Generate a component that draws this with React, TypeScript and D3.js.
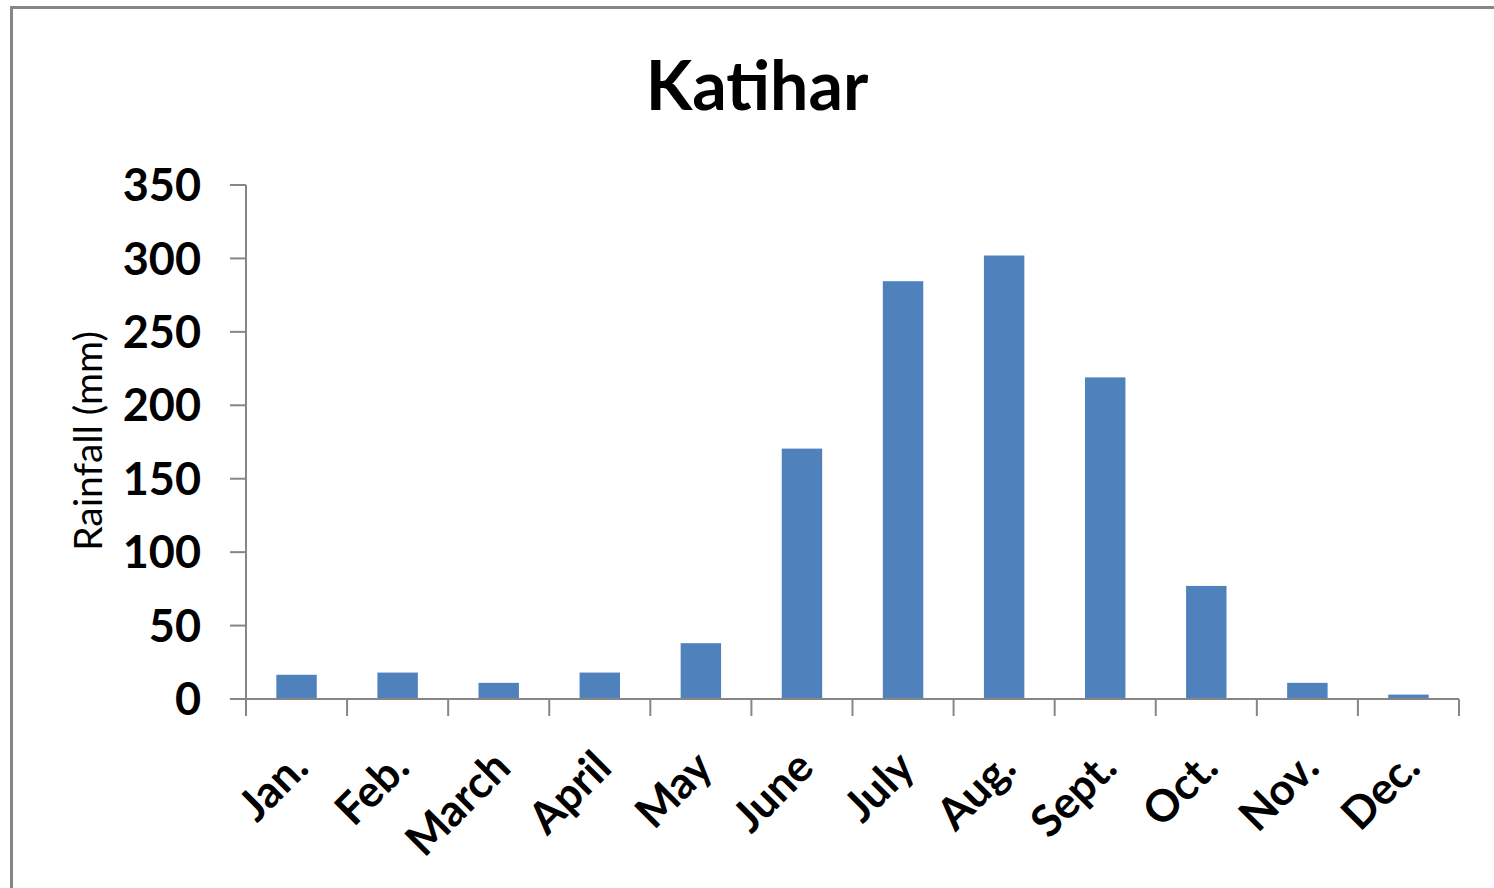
import React from 'react';
import * as d3 from 'd3';

const months = ['Jan.', 'Feb.', 'March', 'April', 'May', 'June', 'July', 'Aug.', 'Sept.', 'Oct.', 'Nov.', 'Dec.'];
const rainfall = [16.5, 18, 11, 18, 38, 170.5, 284.5, 302, 219, 77, 11, 3];
const yTicks = [0, 50, 100, 150, 200, 250, 300, 350];

const W = 1494;
const H = 888;
const left = 246;
const right = 1459;
const top = 185;
const bottom = 699;
const font = 'Lato, "Open Sans", sans-serif';
const axisColor = '#868686';

const App = () => {
	const x = d3.scaleBand().domain(months).range([left, right]).padding(0);
	const y = d3.scaleLinear().domain([0, 350]).range([bottom, top]);
	const barW = x.bandwidth() * 0.4;

	return (
		<svg width={W} height={H} style={{ position: 'absolute', left: 0, top: 0 }}>
			<rect x={0} y={0} width={W} height={H} fill="#fff" />
			<rect x={11.5} y={7.5} width={W + 20} height={H + 20} fill="none" stroke={axisColor} strokeWidth={3} />
			<text x={757} y={110} textAnchor="middle" fontFamily={font} fontWeight={700} fontSize={68} fill="#000">
				Katihar
			</text>

			{/* bars */}
			{rainfall.map((v, i) => (
				<rect
					key={months[i]}
					x={x(months[i])! + (x.bandwidth() - barW) / 2}
					y={y(v)}
					width={barW}
					height={bottom - y(v)}
					fill="#4F81BD"
				/>
			))}

			{/* y axis */}
			<line x1={left} x2={left} y1={top} y2={bottom} stroke={axisColor} strokeWidth={2} />
			{yTicks.map((t) => (
				<g key={t}>
					<line x1={230} x2={left} y1={y(t)} y2={y(t)} stroke={axisColor} strokeWidth={2} />
					<text x={201} y={y(t)} dy="0.36em" textAnchor="end" fontFamily={font} fontWeight={700} fontSize={45} fill="#000">
						{t}
					</text>
				</g>
			))}
			<text
				transform={`translate(102, ${(top + bottom) / 2 - 1}) rotate(-90)`}
				textAnchor="middle"
				fontFamily={font}
				fontSize={39}
				fill="#000"
			>
				Rainfall (mm)
			</text>

			{/* x axis */}
			<line x1={left} x2={right} y1={bottom} y2={bottom} stroke={axisColor} strokeWidth={2} />
			{[...months.map((m) => x(m)!), right].map((px, i) => (
				<line key={i} x1={px} x2={px} y1={bottom} y2={716} stroke={axisColor} strokeWidth={2} />
			))}
			{months.map((m) => (
				<text
					key={m}
					transform={`translate(${x(m)! + x.bandwidth() / 2 + 14}, 770) rotate(-45)`}
					textAnchor="end"
					fontFamily={font}
					fontWeight={700}
					fontSize={44}
					fill="#000"
				>
					{m}
				</text>
			))}
		</svg>
	);
};

export default App;
